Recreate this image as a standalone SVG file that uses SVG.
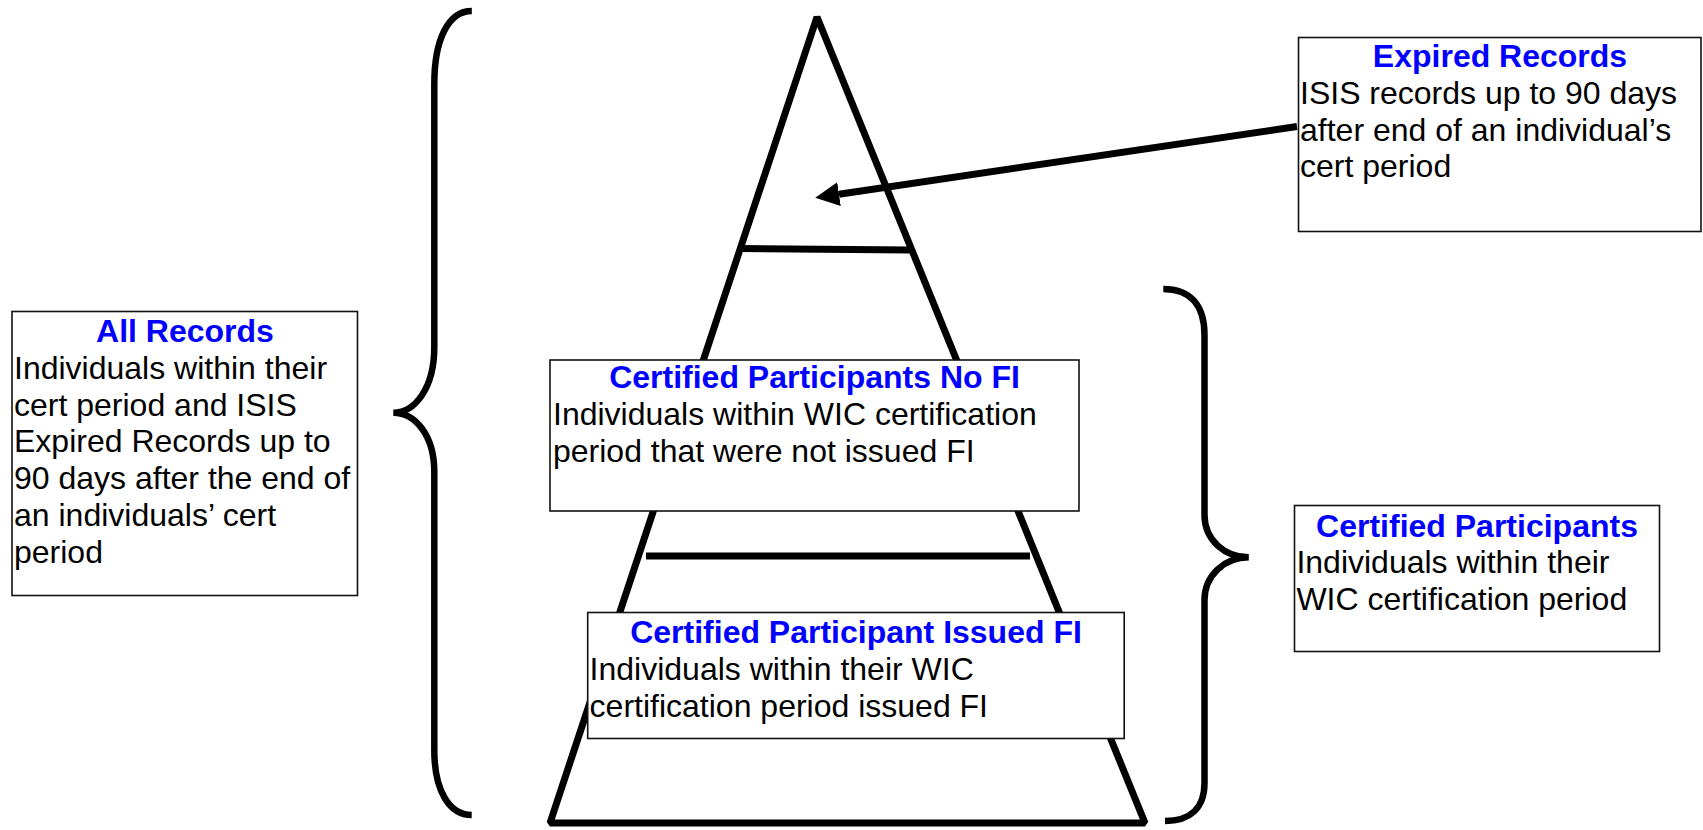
<svg xmlns="http://www.w3.org/2000/svg" width="1703" height="830" viewBox="0 0 1703 830">
  <defs>
    <style>
      .box { fill: #ffffff; stroke: #111111; stroke-width: 1.6; }
      .title { font-family: "Liberation Sans", Arial, sans-serif; font-size: 32px; font-weight: bold; fill: #0000ff; text-anchor: middle; }
      .body { font-family: "Liberation Sans", Arial, sans-serif; font-size: 32px; fill: #000000; }
      .heavy { fill: none; stroke: #000000; stroke-width: 7; }
      .brace { fill: none; stroke: #000000; stroke-width: 6.5; stroke-linecap: butt; }
    </style>
    <marker id="arrowhead" markerUnits="userSpaceOnUse" markerWidth="26" markerHeight="26" refX="0" refY="12" orient="auto">
      <path d="M0,0 L24,12 L0,24 Z" fill="#000000"/>
    </marker>
  </defs>

  <rect width="1703" height="830" fill="#ffffff"/>

  <!-- pyramid outline and tier dividers -->
  <g id="pyramid">
    <path class="heavy" stroke-linejoin="bevel" d="M550,823 L817,17 L1145,823 Z"/>
    <line class="heavy" x1="742" y1="248.5" x2="910" y2="250"/>
    <line class="heavy" x1="646" y1="556" x2="1030" y2="556"/>
  </g>

  <!-- curly braces grouping the tiers -->
  <g id="brace-all">
    <path class="brace" d="M471.8,11 C448,11 434.3,40 434.3,84 L434.3,347 C434.3,388 415,412.7 393.3,412.7 C415,412.7 434.3,435 434.3,472 L434.3,750 C434.3,792 450,815 471.7,815"/>
  </g>
  <g id="brace-certified">
    <path class="brace" d="M1163.3,289 C1190,289 1204.5,305 1204.5,335 L1204.5,515 C1204.5,540 1225,557.3 1248.8,557.3 C1225,557.3 1204.5,575 1204.5,600 L1204.5,783 C1204.5,808 1190,821 1165,821"/>
  </g>

  <!-- connectors -->
  <g id="connectors">
    <line x1="1297" y1="126.5" x2="839" y2="194.2" stroke="#000000" stroke-width="7" marker-end="url(#arrowhead)"/>
  </g>

  <g id="all-records">
    <rect class="box" x="12" y="311.5" width="345.5" height="284"/>
    <text class="title" x="185" y="342">All Records</text>
    <text class="body" x="14" y="379">Individuals within their</text>
    <text class="body" x="14" y="415.7">cert period and ISIS</text>
    <text class="body" x="14" y="452.4">Expired Records up to</text>
    <text class="body" x="14" y="489.1">90 days after the end of</text>
    <text class="body" x="14" y="525.8">an individuals’ cert</text>
    <text class="body" x="14" y="562.5">period</text>
  </g>

  <g id="expired-records">
    <rect class="box" x="1298.5" y="37.5" width="402.5" height="194"/>
    <text class="title" x="1500" y="66.7">Expired Records</text>
    <text class="body" x="1300" y="104">ISIS records up to 90 days</text>
    <text class="body" x="1300" y="140.5">after end of an individual’s</text>
    <text class="body" x="1300" y="177">cert period</text>
  </g>

  <g id="certified-no-fi">
    <rect class="box" x="550" y="360" width="529" height="151"/>
    <text class="title" x="814.5" y="388">Certified Participants No FI</text>
    <text class="body" x="553" y="425">Individuals within WIC certification</text>
    <text class="body" x="553" y="461.7">period that were not issued FI</text>
  </g>

  <g id="certified-issued-fi">
    <rect class="box" x="587.7" y="612.5" width="536.5" height="126"/>
    <text class="title" x="856" y="643.3">Certified Participant Issued FI</text>
    <text class="body" x="589.6" y="680">Individuals within their WIC</text>
    <text class="body" x="589.6" y="716.7">certification period issued FI</text>
  </g>

  <g id="certified-participants">
    <rect class="box" x="1294.5" y="505.5" width="365" height="146"/>
    <text class="title" x="1477" y="536.7">Certified Participants</text>
    <text class="body" x="1296.4" y="573.3">Individuals within their</text>
    <text class="body" x="1296.4" y="610">WIC certification period</text>
  </g>
</svg>
